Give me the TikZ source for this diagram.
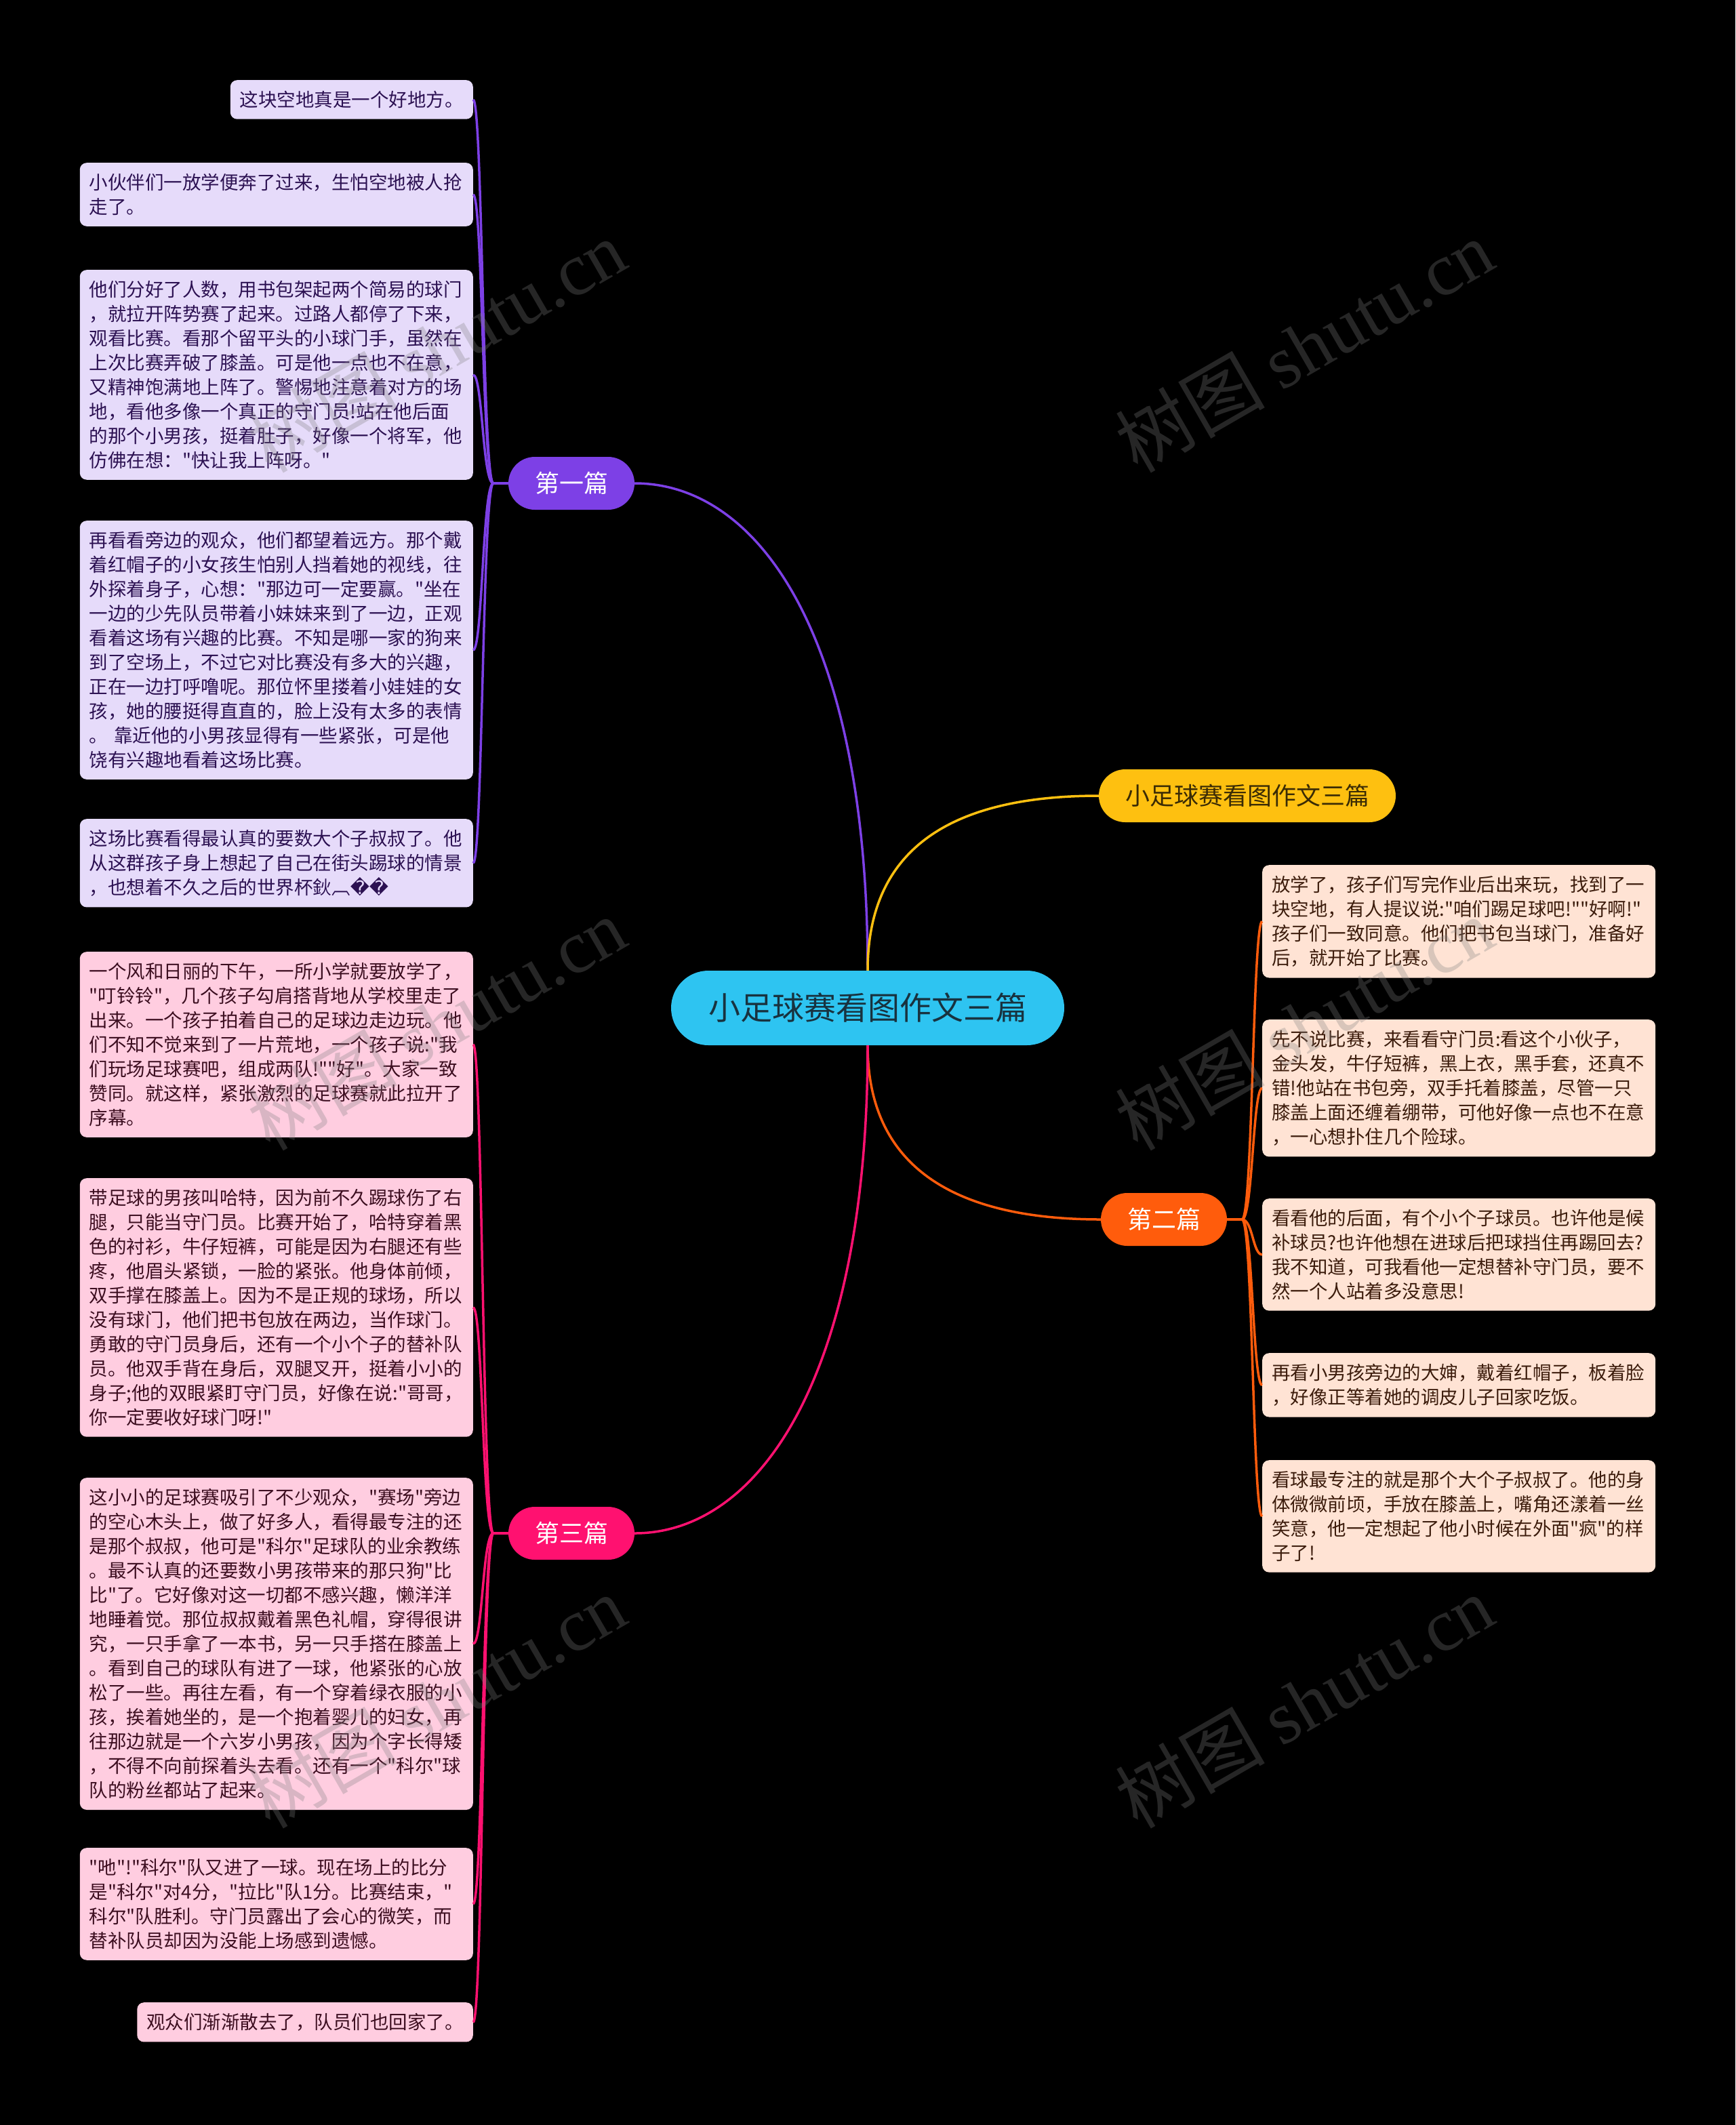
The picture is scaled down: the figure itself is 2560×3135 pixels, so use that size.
\documentclass[tikz,border=0pt]{standalone}
\usepackage{fontspec}
\setmainfont{Noto Sans CJK SC}[Ligatures=TeXOff]
\newfontfamily\repfont{DejaVu Sans}
\newfontfamily\markfont{Liberation Serif}

\begin{document}
\begin{tikzpicture}[x=1pt,y=-1pt,
    topic/.style={rounded corners=55pt, minimum height=110pt, inner xsep=55pt,
        font=\fontsize{47}{56}\selectfont},
    branch/.style={rounded corners=39pt, minimum height=78pt, inner xsep=39pt,
        font=\fontsize{36}{42}\selectfont},
    leafbox/.style={rounded corners=10pt, inner xsep=14pt, inner ysep=16pt,
        align=left, font=\fontsize{27.5}{36}\selectfont},
    widebox/.style={leafbox, text width=552pt},
    link/.style={line width=3.5pt},
    wmark/.style={gray, opacity=0.3, rotate=30, font=\fontsize{110}{120}\selectfont}]
    \definecolor{rootcol}{HTML}{2EC4F1}
    \definecolor{roottext}{HTML}{18323F}
    \definecolor{purplecol}{HTML}{7D40E6}
    \definecolor{purpleleaf}{HTML}{E6DBFA}
    \definecolor{purpletext}{HTML}{2C1152}
    \definecolor{yellowcol}{HTML}{FEC010}
    \definecolor{yellowtext}{HTML}{3A2B05}
    \definecolor{orangecol}{HTML}{FF5C0C}
    \definecolor{orangeleaf}{HTML}{FFE3D4}
    \definecolor{orangetext}{HTML}{3C1C0C}
    \definecolor{pinkcol}{HTML}{FF1170}
    \definecolor{pinkleaf}{HTML}{FFCDE0}
    \definecolor{pinktext}{HTML}{3C0E20}

    \useasboundingbox (0,0) rectangle (2560,3135);
    \fill[black] (0,0) rectangle (2560,3135);

    % centre and main branches
    \node[topic, fill=rootcol, text=roottext] (root) at (1280,1487) {小足球赛看图作文三篇};
    \node[branch, fill=purplecol, text=white] (b1) at (843,713) {第一篇};
    \node[branch, fill=yellowcol, text=yellowtext] (t1) at (1840,1174) {小足球赛看图作文三篇};
    \node[branch, fill=orangecol, text=white] (b2) at (1717,1799) {第二篇};
    \node[branch, fill=pinkcol, text=white] (b3) at (843,2262) {第三篇};

    % first part
    \node[leafbox, fill=purpleleaf, text=purpletext, anchor=north east] (p1) at (698,118)
        {这块空地真是一个好地方。};
    \node[widebox, fill=purpleleaf, text=purpletext, anchor=north east] (p2) at (698,240)
        {小伙伴们一放学便奔了过来，生怕空地被人抢\\走了。};
    \node[widebox, fill=purpleleaf, text=purpletext, anchor=north east] (p3) at (698,398)
        {他们分好了人数，用书包架起两个简易的球门\\，就拉开阵势赛了起来。过路人都停了下来，\\观看比赛。看那个留平头的小球门手，虽然在\\上次比赛弄破了膝盖。可是他一点也不在意，\\又精神饱满地上阵了。警惕地注意着对方的场\\地，看他多像一个真正的守门员!站在他后面\\的那个小男孩，挺着肚子，好像一个将军，他\\仿佛在想："快让我上阵呀。"};
    \node[widebox, fill=purpleleaf, text=purpletext, anchor=north east] (p4) at (698,768)
        {再看看旁边的观众，他们都望着远方。那个戴\\着红帽子的小女孩生怕别人挡着她的视线，往\\外探着身子，心想："那边可一定要赢。"坐在\\一边的少先队员带着小妹妹来到了一边，正观\\看着这场有兴趣的比赛。不知是哪一家的狗来\\到了空场上，不过它对比赛没有多大的兴趣，\\正在一边打呼噜呢。那位怀里搂着小娃娃的女\\孩，她的腰挺得直直的，脸上没有太多的表情\\。 靠近他的小男孩显得有一些紧张，可是他\\饶有兴趣地看着这场比赛。};
    \node[widebox, fill=purpleleaf, text=purpletext, anchor=north east] (p5) at (698,1208)
        {这场比赛看得最认真的要数大个子叔叔了。他\\从这群孩子身上想起了自己在街头踢球的情景\\，也想着不久之后的世界杯鈥︹{\repfont ��}};

    % second part
    \node[widebox, fill=orangeleaf, text=orangetext, anchor=north west] (o1) at (1862,1276)
        {放学了，孩子们写完作业后出来玩，找到了一\\块空地，有人提议说:"咱们踢足球吧!""好啊!"\\孩子们一致同意。他们把书包当球门，准备好\\后，就开始了比赛。};
    \node[widebox, fill=orangeleaf, text=orangetext, anchor=north west] (o2) at (1862,1504)
        {先不说比赛，来看看守门员:看这个小伙子，\\金头发，牛仔短裤，黑上衣，黑手套，还真不\\错!他站在书包旁，双手托着膝盖，尽管一只\\膝盖上面还缠着绷带，可他好像一点也不在意\\，一心想扑住几个险球。};
    \node[widebox, fill=orangeleaf, text=orangetext, anchor=north west] (o3) at (1862,1768)
        {看看他的后面，有个小个子球员。也许他是候\\补球员?也许他想在进球后把球挡住再踢回去?\\我不知道，可我看他一定想替补守门员，要不\\然一个人站着多没意思!};
    \node[widebox, fill=orangeleaf, text=orangetext, anchor=north west] (o4) at (1862,1996)
        {再看小男孩旁边的大婶，戴着红帽子，板着脸\\，好像正等着她的调皮儿子回家吃饭。};
    \node[widebox, fill=orangeleaf, text=orangetext, anchor=north west] (o5) at (1862,2154)
        {看球最专注的就是那个大个子叔叔了。他的身\\体微微前顷，手放在膝盖上，嘴角还漾着一丝\\笑意，他一定想起了他小时候在外面"疯"的样\\子了!};

    % third part
    \node[widebox, fill=pinkleaf, text=pinktext, anchor=north east] (k1) at (698,1404)
        {一个风和日丽的下午，一所小学就要放学了，\\"叮铃铃"，几个孩子勾肩搭背地从学校里走了\\出来。一个孩子拍着自己的足球边走边玩。他\\们不知不觉来到了一片荒地，一个孩子说:"我\\们玩场足球赛吧，组成两队!""好"。大家一致\\赞同。就这样，紧张激烈的足球赛就此拉开了\\序幕。};
    \node[widebox, fill=pinkleaf, text=pinktext, anchor=north east] (k2) at (698,1738)
        {带足球的男孩叫哈特，因为前不久踢球伤了右\\腿，只能当守门员。比赛开始了，哈特穿着黑\\色的衬衫，牛仔短裤，可能是因为右腿还有些\\疼，他眉头紧锁，一脸的紧张。他身体前倾，\\双手撑在膝盖上。因为不是正规的球场，所以\\没有球门，他们把书包放在两边，当作球门。\\勇敢的守门员身后，还有一个小个子的替补队\\员。他双手背在身后，双腿叉开，挺着小小的\\身子;他的双眼紧盯守门员，好像在说:"哥哥，\\你一定要收好球门呀!"};
    \node[widebox, fill=pinkleaf, text=pinktext, anchor=north east] (k3) at (698,2180)
        {这小小的足球赛吸引了不少观众，"赛场"旁边\\的空心木头上，做了好多人，看得最专注的还\\是那个叔叔，他可是"科尔"足球队的业余教练\\。最不认真的还要数小男孩带来的那只狗"比\\比"了。它好像对这一切都不感兴趣，懒洋洋\\地睡着觉。那位叔叔戴着黑色礼帽，穿得很讲\\究，一只手拿了一本书，另一只手搭在膝盖上\\。看到自己的球队有进了一球，他紧张的心放\\松了一些。再往左看，有一个穿着绿衣服的小\\孩，挨着她坐的，是一个抱着婴儿的妇女，再\\往那边就是一个六岁小男孩，因为个字长得矮\\，不得不向前探着头去看。还有一个"科尔"球\\队的粉丝都站了起来。};
    \node[widebox, fill=pinkleaf, text=pinktext, anchor=north east] (k4) at (698,2726)
        {"吔"!"科尔"队又进了一球。现在场上的比分\\是"科尔"对4分，"拉比"队1分。比赛结束，"\\科尔"队胜利。守门员露出了会心的微笑，而\\替补队员却因为没能上场感到遗憾。};
    \node[leafbox, fill=pinkleaf, text=pinktext, anchor=north east] (k5) at (698,2954)
        {观众们渐渐散去了，队员们也回家了。};

    % connectors
    \draw[link, purplecol] (root.north) .. controls (1280,940) and (1120,713) .. (b1.east);
    \draw[link, yellowcol] (root.north) .. controls (1280,1240) and (1420,1174) .. (t1.west);
    \draw[link, orangecol] (root.south) .. controls (1280,1730) and (1420,1799) .. (b2.west);
    \draw[link, pinkcol] (root.south) .. controls (1280,2030) and (1120,2262) .. (b3.east);
    \foreach \n in {p1,p2,p3,p4,p5}
        \draw[link, purplecol] (b1.west) -- ++(-22,0) .. controls +(-16,0) and +(14,0) .. (\n.east);
    \foreach \n in {o1,o2,o3,o4,o5}
        \draw[link, orangecol] (b2.east) -- ++(22,0) .. controls +(16,0) and +(-14,0) .. (\n.west);
    \foreach \n in {k1,k2,k3,k4,k5}
        \draw[link, pinkcol] (b3.west) -- ++(-22,0) .. controls +(-16,0) and +(14,0) .. (\n.east);

    % watermarks
    \foreach \y in {510,1510,2510} {
        \node[wmark] (wl\y) at (644,\y) {树图 {\markfont shutu.cn}};
        \node[wmark] (wr\y) at (1924,\y) {树图 {\markfont shutu.cn}};
    }
\end{tikzpicture}
\end{document}
